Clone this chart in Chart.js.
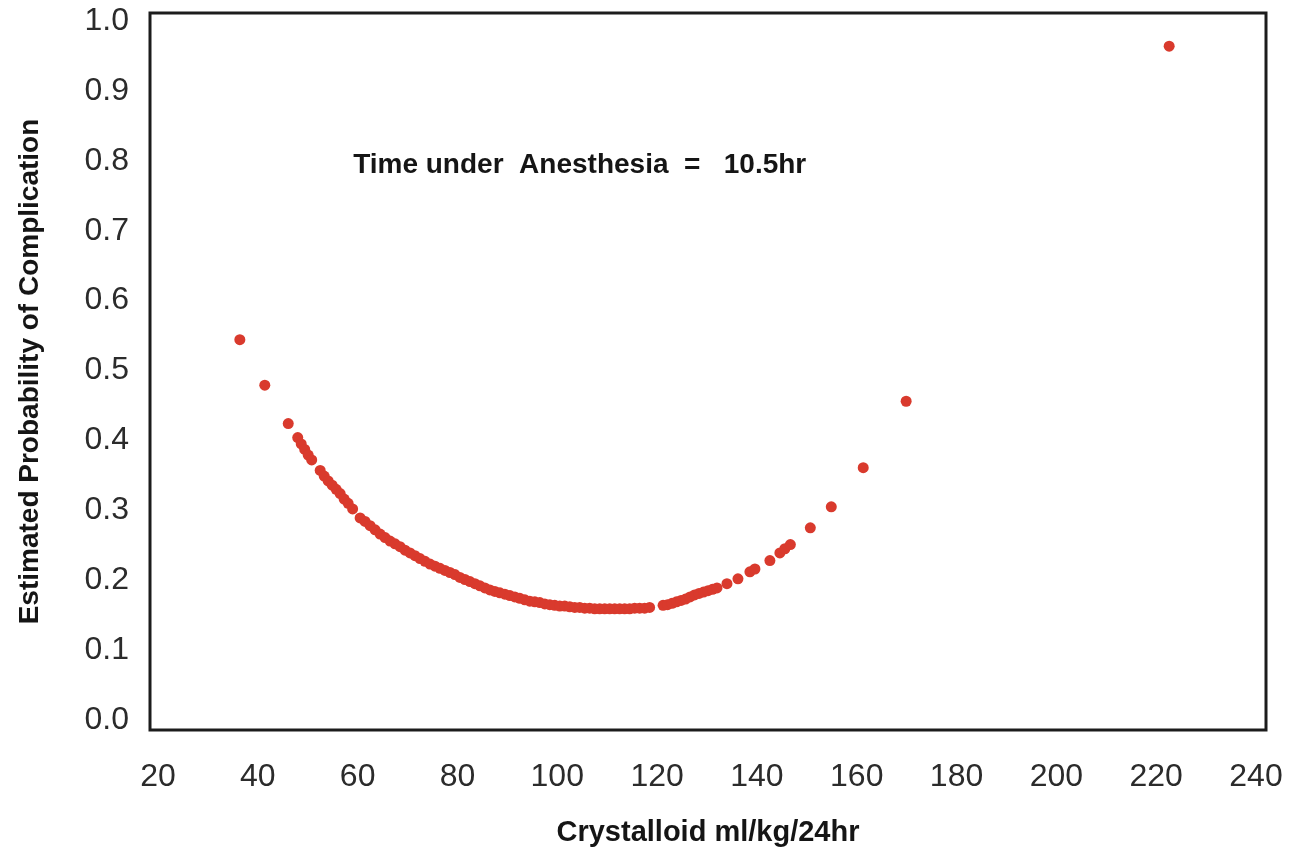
<!DOCTYPE html>
<html>
<head>
<meta charset="utf-8">
<script src="https://cdn.jsdelivr.net/npm/chart.js@4.4.1/dist/chart.umd.min.js"></script>
<style>
  html, body { margin: 0; padding: 0; background: #ffffff; }
  #wrap { width: 1292px; height: 856px; position: relative; }
</style>
</head>
<body>
<div id="wrap"><canvas id="c" width="1292" height="856"></canvas></div>
<script>
// Crystalloid ml/kg/24hr
const crystalloid = [
  36.4, 41.4, 46.1,
  48.0, 48.7, 49.4, 50.1, 50.8,
  52.5, 53.3, 54.1, 54.9, 55.7, 56.5, 57.3, 58.1, 59.0,
  60.5, 61.5, 62.5, 63.5, 64.5, 65.5, 66.5, 67.5, 68.5, 69.5,
  70.5, 71.5, 72.5, 73.5, 74.5, 75.5, 76.5, 77.5, 78.5, 79.5,
  80.5, 81.5, 82.5, 83.5, 84.5, 85.5, 86.5, 87.5, 88.5, 89.5,
  90.5, 91.5, 92.5, 93.5, 94.5, 95.5, 96.5, 97.5, 98.5, 99.5,
  100.5, 101.5, 102.5, 103.5, 104.5, 105.5, 106.5, 107.5, 108.5, 109.5,
  110.5, 111.5, 112.5, 113.5, 114.5, 115.5, 116.5, 117.5, 118.5,
  121.2, 122.1, 123.0, 123.9, 124.8, 125.7, 126.6, 127.5, 128.4, 129.3, 130.2, 131.1, 132.0,
  134.0, 136.2, 138.6, 139.6, 142.6, 144.6, 145.6, 146.7,
  150.7, 154.9, 161.3, 169.9, 222.6
];
// Estimated probability of complication
const probability = [
  0.544, 0.479, 0.424,
  0.404, 0.395, 0.387, 0.379, 0.372,
  0.357, 0.349, 0.342, 0.336, 0.330, 0.324, 0.316, 0.310, 0.302,
  0.289, 0.284, 0.278, 0.272, 0.266, 0.261, 0.256, 0.252, 0.248, 0.243,
  0.239, 0.235, 0.231, 0.227, 0.223, 0.220, 0.217, 0.214, 0.211, 0.208,
  0.204, 0.201, 0.198, 0.195, 0.192, 0.189, 0.186, 0.184, 0.182, 0.180,
  0.178, 0.176, 0.174, 0.172, 0.170, 0.169, 0.168, 0.166, 0.165, 0.164,
  0.163, 0.163, 0.162, 0.161, 0.161, 0.160, 0.160, 0.159, 0.159, 0.159,
  0.159, 0.159, 0.159, 0.159, 0.159, 0.160, 0.160, 0.160, 0.161,
  0.164, 0.165, 0.167, 0.169, 0.171, 0.173, 0.176, 0.179, 0.181, 0.183, 0.185, 0.187, 0.189,
  0.195, 0.202, 0.212, 0.216, 0.228, 0.239, 0.245, 0.251,
  0.275, 0.305, 0.361, 0.456, 0.964
];
const xTickValues = [20, 40, 60, 80, 100, 120, 140, 160, 180, 200, 220, 240];
const yTickValues = [0.0, 0.1, 0.2, 0.3, 0.4, 0.5, 0.6, 0.7, 0.8, 0.9, 1.0];
const xTitle = 'Crystalloid ml/kg/24hr';
const yTitle = 'Estimated Probability of Complication';
const noteText = 'Time under  Anesthesia  =   10.5hr';

const points = crystalloid.map((x, i) => ({ x: x, y: probability[i] }));

const framePlugin = {
  id: 'frame',
  beforeDatasetsDraw(chart) {
    const { ctx, chartArea: a } = chart;
    ctx.save();
    ctx.strokeStyle = '#1c1c1c';
    ctx.lineWidth = 3;
    ctx.strokeRect(a.left, a.top, a.right - a.left, a.bottom - a.top);
    ctx.restore();
  },
  afterDraw(chart) {
    const { ctx, scales } = chart;
    ctx.save();
    ctx.fillStyle = '#151515';
    ctx.font = 'bold 28px "Liberation Sans", Arial, sans-serif';
    ctx.textAlign = 'left';
    ctx.textBaseline = 'middle';
    ctx.fillText(noteText, scales.x.getPixelForValue(59.1), scales.y.getPixelForValue(0.794));
    ctx.restore();
  }
};

new Chart(document.getElementById('c'), {
  type: 'scatter',
  data: {
    datasets: [{
      data: points,
      backgroundColor: '#d93a2d',
      borderWidth: 0,
      pointRadius: 5.5,
      pointHoverRadius: 5.5
    }]
  },
  options: {
    responsive: false,
    animation: false,
    devicePixelRatio: 1,
    layout: { padding: { top: 13, right: 26, left: 0, bottom: 0 } },
    plugins: { legend: { display: false }, tooltip: { enabled: false } },
    scales: {
      x: {
        type: 'linear',
        min: 18.4,
        max: 242.0,
        afterBuildTicks(scale) { scale.ticks = xTickValues.map(v => ({ value: v })); },
        afterFit(scale) {
          scale.height = 126;
          scale.paddingLeft = 0; scale.paddingRight = 0;
          scale.paddingTop = 0; scale.paddingBottom = 0;
        },
        grid: { display: false, drawTicks: false },
        border: { display: false },
        ticks: {
          color: '#2b2b2b',
          font: { family: '"Liberation Sans", Arial, sans-serif', size: 32 },
          padding: 28,
          maxRotation: 0,
          autoSkip: false,
          callback: v => String(v)
        },
        title: {
          display: true,
          text: xTitle,
          color: '#151515',
          font: { family: '"Liberation Sans", Arial, sans-serif', size: 29, weight: 'bold' },
          padding: { top: 0, bottom: 6 }
        }
      },
      y: {
        type: 'linear',
        min: -0.0143,
        max: 1.0114,
        afterBuildTicks(scale) { scale.ticks = yTickValues.map(v => ({ value: v })); },
        afterFit(scale) {
          scale.width = 150;
          scale.paddingLeft = 0; scale.paddingRight = 0;
          scale.paddingTop = 0; scale.paddingBottom = 0;
        },
        grid: { display: false, drawTicks: false },
        border: { display: false },
        ticks: {
          color: '#2b2b2b',
          font: { family: '"Liberation Sans", Arial, sans-serif', size: 32 },
          padding: 21,
          autoSkip: false,
          callback: v => Number(v).toFixed(1)
        },
        title: {
          display: true,
          text: yTitle,
          color: '#151515',
          font: { family: '"Liberation Sans", Arial, sans-serif', size: 28, weight: 'bold' },
          padding: { top: 13, bottom: 0 }
        }
      }
    }
  },
  plugins: [framePlugin]
});
</script>
</body>
</html>
